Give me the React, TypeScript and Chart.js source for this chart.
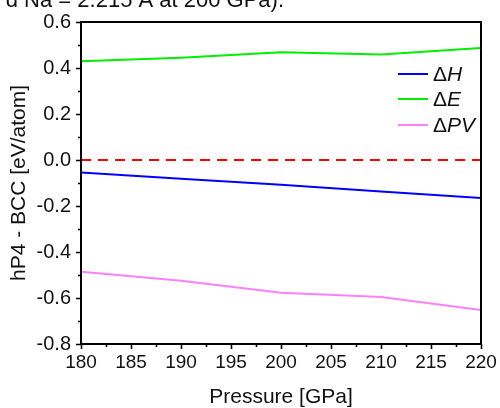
import React, { useEffect, useRef } from 'react';
import { Chart, registerables } from 'chart.js';

Chart.register(...registerables);

const pressures = [180, 190, 200, 210, 220];
const deltaH = [-0.054, -0.081, -0.108, -0.137, -0.165];
const deltaE = [0.429, 0.445, 0.468, 0.459, 0.487];
const deltaPV = [-0.486, -0.525, -0.577, -0.596, -0.652];
const zeroRef = [0, 0, 0, 0, 0];

const xMajorTicks = [180, 185, 190, 195, 200, 205, 210, 215, 220];
const yMajorTicks = [-0.8, -0.6, -0.4, -0.2, 0.0, 0.2, 0.4, 0.6];
const xMinorTicks = [182.5, 187.5, 192.5, 197.5, 202.5, 207.5, 212.5, 217.5];
const yMinorTicks = [-0.7, -0.5, -0.3, -0.1, 0.1, 0.3, 0.5];

const legendEntries = [
  { prefix: 'Δ', italic: 'H', color: '#0000ff' },
  { prefix: 'Δ', italic: 'E', color: '#00ee00' },
  { prefix: 'Δ', italic: 'PV', color: '#ff80ff' },
];

const captionText = 'd Na = 2.215 Å at 200 GPa).';
const xTitle = 'Pressure [GPa]';
const yTitle = 'hP4 - BCC [eV/atom]';

const FONT = '"Liberation Sans", Arial, sans-serif';

const decorPlugin = {
  id: 'decor',
  afterDraw(chart: any) {
    const { ctx, chartArea } = chart;
    const { left, right, top, bottom } = chartArea;
    const xs = chart.scales.x;
    const ys = chart.scales.y;
    ctx.save();
    ctx.strokeStyle = '#000';
    ctx.lineWidth = 2;
    ctx.strokeRect(left, top, right - left, bottom - top);

    ctx.lineWidth = 1.6;
    ctx.beginPath();
    xMajorTicks.forEach((v) => {
      const px = Math.round(xs.getPixelForValue(v)) + 0.5;
      ctx.moveTo(px, bottom);
      ctx.lineTo(px, bottom + 5);
    });
    xMinorTicks.forEach((v) => {
      const px = Math.round(xs.getPixelForValue(v)) + 0.5;
      ctx.moveTo(px, bottom);
      ctx.lineTo(px, bottom + 3);
    });
    yMajorTicks.forEach((v) => {
      const py = Math.round(ys.getPixelForValue(v)) + 0.5;
      ctx.moveTo(left, py);
      ctx.lineTo(left - 5, py);
    });
    yMinorTicks.forEach((v) => {
      const py = Math.round(ys.getPixelForValue(v)) + 0.5;
      ctx.moveTo(left, py);
      ctx.lineTo(left - 3, py);
    });
    ctx.stroke();

    // legend
    const lx0 = 398;
    const lx1 = 428;
    const tx = 433;
    const rows = [74, 99, 125];
    legendEntries.forEach((e, i) => {
      const y = rows[i];
      ctx.strokeStyle = e.color;
      ctx.lineWidth = 2;
      ctx.beginPath();
      ctx.moveTo(lx0, y);
      ctx.lineTo(lx1, y);
      ctx.stroke();
      ctx.fillStyle = '#111';
      ctx.textBaseline = 'middle';
      ctx.textAlign = 'left';
      ctx.font = `21px ${FONT}`;
      ctx.fillText(e.prefix, tx, y + 1);
      const w = ctx.measureText(e.prefix).width;
      ctx.font = `italic 21px ${FONT}`;
      ctx.fillText(e.italic, tx + w, y + 1);
    });

    // cropped caption at the very top
    ctx.fillStyle = '#111';
    ctx.font = `22px ${FONT}`;
    ctx.textAlign = 'right';
    ctx.textBaseline = 'alphabetic';
    ctx.fillText(captionText, 284, 7);
    ctx.restore();
  },
};

export default function App() {
  const ref = useRef<HTMLCanvasElement | null>(null);

  useEffect(() => {
    if (!ref.current) return;
    const mk = (v: number[]) => pressures.map((p, i) => ({ x: p, y: v[i] }));
    const chart = new Chart(ref.current, {
      type: 'line',
      data: {
        datasets: [
          {
            label: 'zero',
            data: mk(zeroRef),
            borderColor: '#ff0000',
            borderWidth: 2,
            borderDash: [10, 7],
            pointRadius: 0,
            tension: 0,
          },
          {
            label: 'ΔH',
            data: mk(deltaH),
            borderColor: '#0000ff',
            borderWidth: 2,
            pointRadius: 0,
            tension: 0,
          },
          {
            label: 'ΔE',
            data: mk(deltaE),
            borderColor: '#00ee00',
            borderWidth: 2,
            pointRadius: 0,
            tension: 0,
          },
          {
            label: 'ΔPV',
            data: mk(deltaPV),
            borderColor: '#ff80ff',
            borderWidth: 2,
            pointRadius: 0,
            tension: 0,
          },
        ],
      },
      options: {
        animation: false,
        responsive: false,
        layout: { padding: { top: 22, right: 19, left: 0, bottom: 0 } },
        plugins: {
          legend: { display: false },
          tooltip: { enabled: false },
          title: { display: false },
        },
        scales: {
          x: {
            type: 'linear',
            min: 180,
            max: 220,
            afterFit: (s: any) => {
              s.height = 64;
            },
            afterBuildTicks: (s: any) => {
              s.ticks = xMajorTicks.map((v) => ({ value: v }));
            },
            ticks: {
              color: '#111',
              font: { family: FONT, size: 19 },
              padding: 2,
              maxRotation: 0,
              autoSkip: false,
            },
            grid: {
              display: true,
              drawOnChartArea: false,
              drawTicks: true,
              tickLength: 5,
              color: 'rgba(0,0,0,0)',
            },
            border: { display: false },
            title: {
              display: true,
              text: xTitle,
              color: '#111',
              font: { family: FONT, size: 21, lineHeight: 1 },
              padding: { top: 0, bottom: 0 },
            },
          },
          y: {
            type: 'linear',
            min: -0.8,
            max: 0.6,
            afterFit: (s: any) => {
              s.width = 81;
            },
            afterBuildTicks: (s: any) => {
              s.ticks = yMajorTicks.map((v) => ({ value: v }));
            },
            ticks: {
              color: '#111',
              font: { family: FONT, size: 20 },
              padding: 5,
              autoSkip: false,
              callback: (v: any) => {
                const n = Number(v);
                return Math.abs(n) < 1e-9 ? '0.0' : n.toFixed(1);
              },
            },
            grid: {
              display: true,
              drawOnChartArea: false,
              drawTicks: true,
              tickLength: 5,
              color: 'rgba(0,0,0,0)',
            },
            border: { display: false },
            title: {
              display: true,
              text: yTitle,
              color: '#111',
              font: { family: FONT, size: 21, lineHeight: 1 },
              padding: { top: 9, bottom: 0 },
            },
          },
        },
      },
      plugins: [decorPlugin],
    });
    return () => chart.destroy();
  }, []);

  return (
    <div style={{ position: 'fixed', left: 0, top: 0, width: 500, height: 408, background: '#fff' }}>
      <canvas ref={ref} width={500} height={408} />
    </div>
  );
}
